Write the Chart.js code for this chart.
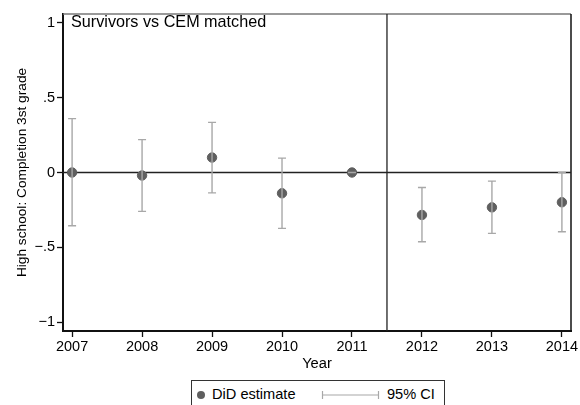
<!DOCTYPE html>
<html>
<head>
<meta charset="utf-8">
<script src="https://cdn.jsdelivr.net/npm/chart.js@4"></script>
<style>
  body { margin: 0; background: #fff; }
  #wrap { position: relative; width: 580px; height: 405px; }
  #legend {
    position: absolute; left: 191px; top: 380px; width: 254px; height: 30px;
    border: 1px solid #333; box-sizing: border-box; background: #fff;
    font: 14.6px "Liberation Sans", Arial, sans-serif; color: #000;
  }
  #legend span { position: absolute; top: 5px; }
</style>
</head>
<body>
<div id="wrap">
  <canvas id="myChart" width="580" height="405"></canvas>
  <div id="legend">
    <svg width="254" height="30" style="position:absolute;left:0;top:0">
      <circle cx="9" cy="14" r="4" fill="#5f5f5f"/>
      <line x1="130" y1="14" x2="187" y2="14" stroke="#a8a8a8" stroke-width="1.2"/>
      <line x1="130.5" y1="10" x2="130.5" y2="18" stroke="#a8a8a8" stroke-width="1.2"/>
      <line x1="186.5" y1="10" x2="186.5" y2="18" stroke="#a8a8a8" stroke-width="1.2"/>
    </svg>
    <span style="left:20px">DiD estimate</span>
    <span style="left:195px">95% CI</span>
  </div>
</div>
<script>
const years = [2007, 2008, 2009, 2010, 2011, 2012, 2013, 2014];
const estimate = [0.0, -0.02, 0.10, -0.139, 0.0, -0.284, -0.233, -0.199];
const ciLow = [-0.356, -0.26, -0.136, -0.374, 0.0, -0.463, -0.407, -0.396];
const ciHigh = [0.36, 0.22, 0.335, 0.096, 0.0, -0.10, -0.058, 0.0];
const yTicks = [-1, -0.5, 0, 0.5, 1];
const yTickLabels = {"-1": "\u22121", "-0.5": "\u2212.5", "0": "0", "0.5": ".5", "1": "1"};
const treatmentLine = 2011.5;

const font = "'Liberation Sans', Arial, sans-serif";

// lines, frame and confidence intervals
const extras = {
  id: "extras",
  beforeDatasetsDraw(chart) {
    const {ctx, chartArea: a, scales: {x, y}} = chart;
    ctx.save();
    // top and right frame
    ctx.lineWidth = 1.5;
    ctx.strokeStyle = "#777";
    ctx.beginPath(); ctx.moveTo(a.left, a.top); ctx.lineTo(a.right, a.top); ctx.stroke();
    ctx.strokeStyle = "#111";
    ctx.beginPath(); ctx.moveTo(a.right, a.top); ctx.lineTo(a.right, a.bottom); ctx.stroke();
    // zero line and treatment line
    const y0 = y.getPixelForValue(0);
    ctx.strokeStyle = "#222";
    ctx.lineWidth = 1.3;
    ctx.beginPath(); ctx.moveTo(a.left, y0); ctx.lineTo(a.right, y0); ctx.stroke();
    const xv = x.getPixelForValue(treatmentLine);
    ctx.beginPath(); ctx.moveTo(xv, a.top); ctx.lineTo(xv, a.bottom); ctx.stroke();
    ctx.restore();
  },
  afterDatasetsDraw(chart) {
    const {ctx, scales: {x, y}} = chart;
    ctx.save();
    ctx.strokeStyle = "#a8a8a8";
    ctx.lineWidth = 1.4;
    years.forEach((yr, i) => {
      const px = x.getPixelForValue(yr);
      const lo = y.getPixelForValue(ciLow[i]);
      const hi = y.getPixelForValue(ciHigh[i]);
      ctx.beginPath();
      ctx.moveTo(px, lo); ctx.lineTo(px, hi);
      ctx.moveTo(px - 4, lo); ctx.lineTo(px + 4, lo);
      ctx.moveTo(px - 4, hi); ctx.lineTo(px + 4, hi);
      ctx.stroke();
    });
    ctx.restore();
  }
};

new Chart("myChart", {
  type: "scatter",
  data: {
    datasets: [{
      label: "DiD estimate",
      data: years.map((yr, i) => ({x: yr, y: estimate[i]})),
      backgroundColor: "#5f5f5f",
      borderColor: "#5f5f5f",
      pointRadius: 4.7,
      pointHoverRadius: 4.7
    }]
  },
  options: {
    responsive: false,
    animation: false,
    layout: {padding: {top: 14, right: 9, bottom: 32, left: 0}},
    plugins: {legend: {display: false}, tooltip: {enabled: false}},
    scales: {
      x: {
        type: "linear",
        min: 2006.87, max: 2014.13,
        afterBuildTicks: s => { s.ticks = years.map(v => ({value: v})); },
        afterFit: s => { s.height = 42; },
        border: {color: "#111", width: 2},
        grid: {drawOnChartArea: false, drawTicks: true, tickLength: 6, tickColor: "#111", tickWidth: 1.3},
        ticks: {color: "#000", font: {family: font, size: 14.5}, padding: 1, callback: v => String(v)},
        title: {display: true, text: "Year", color: "#000", font: {family: font, size: 14.7}, padding: {top: 0, bottom: 0}}
      },
      y: {
        min: -1.06, max: 1.06,
        afterBuildTicks: s => { s.ticks = yTicks.map(v => ({value: v})); },
        afterFit: s => { s.width = 63; },
        border: {color: "#111", width: 2},
        grid: {drawOnChartArea: false, drawTicks: true, tickLength: 6, tickColor: "#111", tickWidth: 1.3},
        ticks: {color: "#000", font: {family: font, size: 14.5}, padding: 2, callback: v => yTickLabels[String(v)]},
        title: {display: true, text: "High school: Completion 3st grade", color: "#000", font: {family: font, size: 13.7}, padding: {top: 14, bottom: 0}}
      }
    }
  },
  plugins: [extras, {
    id: "subtitle",
    afterDraw(chart) {
      const {ctx, chartArea: a} = chart;
      ctx.save();
      ctx.fillStyle = "#000";
      ctx.font = "16.2px " + font;
      ctx.textBaseline = "middle";
      ctx.fillText("Survivors vs CEM matched", a.left + 8, a.top + 9);
      ctx.restore();
    }
  }]
});
</script>
</body>
</html>
